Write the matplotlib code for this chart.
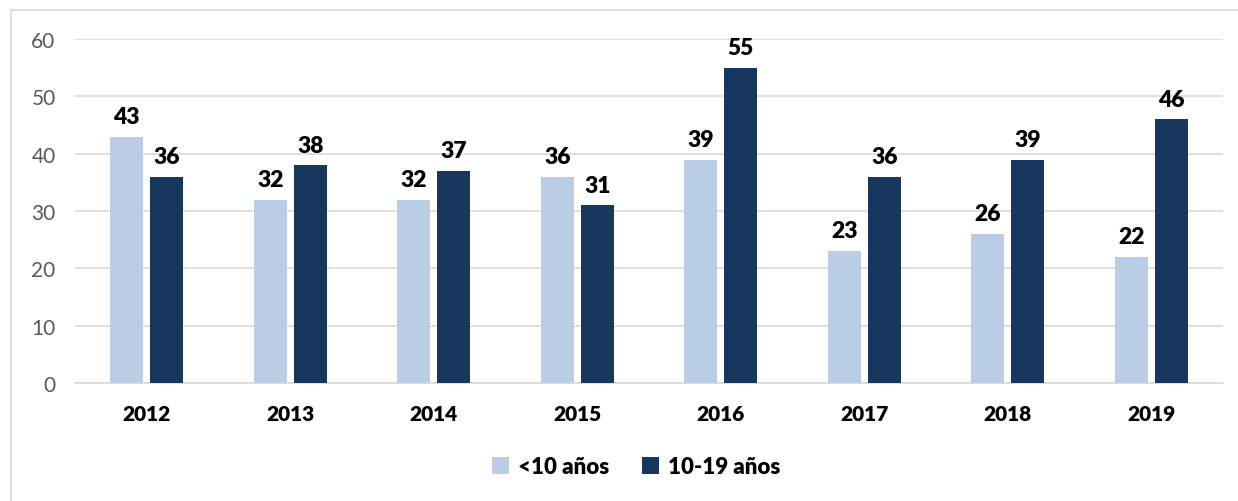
import numpy as np
import matplotlib.pyplot as plt
from matplotlib.patches import Rectangle

years = ['2012', '2013', '2014', '2015', '2016', '2017', '2018', '2019']
menores_10 = [43, 32, 32, 36, 39, 23, 26, 22]
de_10_19 = [36, 38, 37, 31, 55, 36, 39, 46]
series_names = ['<10 años', '10-19 años']

light = '#B9CDE5'
dark = '#17375E'

plt.rcParams['font.family'] = ['Lato', 'DejaVu Sans']

fig = plt.figure(figsize=(12.38, 5.02), dpi=100)
ax = fig.add_axes([0.0606, 0.235, 0.9274, 0.685])

# outer chart frame (partially cut off, like the source)
fig.patches.append(Rectangle((11 / 1238, -0.1), 1.2, 1 - 11 / 502 + 0.1,
                             transform=fig.transFigure, fill=False,
                             edgecolor='#D9D9D9', linewidth=1.2))

x = np.arange(len(years))
w = 0.23
off = 0.14
b1 = ax.bar(x - off, menores_10, w, color=light, label=series_names[0], zorder=3)
b2 = ax.bar(x + off, de_10_19, w, color=dark, label=series_names[1], zorder=3)

for bars in (b1, b2):
    for r in bars:
        ax.annotate('%d' % r.get_height(), (r.get_x() + r.get_width() / 2, r.get_height()),
                    xytext=(0, 7), textcoords='offset points', ha='center', va='bottom',
                    fontsize=16.5, fontweight='heavy', color='black')

ax.set_xlim(-0.5, len(years) - 0.5)
ax.set_ylim(0, 60)
ax.set_yticks(np.arange(0, 61, 10))
ax.yaxis.grid(True, color='#D9D9D9', linewidth=1.2, zorder=0)
ax.set_axisbelow(True)
for s in ['top', 'right', 'left']:
    ax.spines[s].set_visible(False)
ax.spines['bottom'].set_color('#D9D9D9')
ax.spines['bottom'].set_linewidth(1.2)
ax.tick_params(axis='both', length=0)
ax.tick_params(axis='y', labelsize=15, labelcolor='#595959', pad=14)
ax.set_xticks(x)
ax.set_xticklabels(years, fontsize=15, fontweight='heavy')
ax.tick_params(axis='x', pad=15)

leg = fig.legend(handles=[b1, b2], labels=series_names, loc='center',
                 bbox_to_anchor=(0.514, 0.068), ncol=2, frameon=False,
                 handlelength=0.75, handleheight=0.75, handletextpad=0.4,
                 columnspacing=1.5, prop={'size': 16, 'weight': 'heavy'})

fig.savefig('out.png', dpi=100)
